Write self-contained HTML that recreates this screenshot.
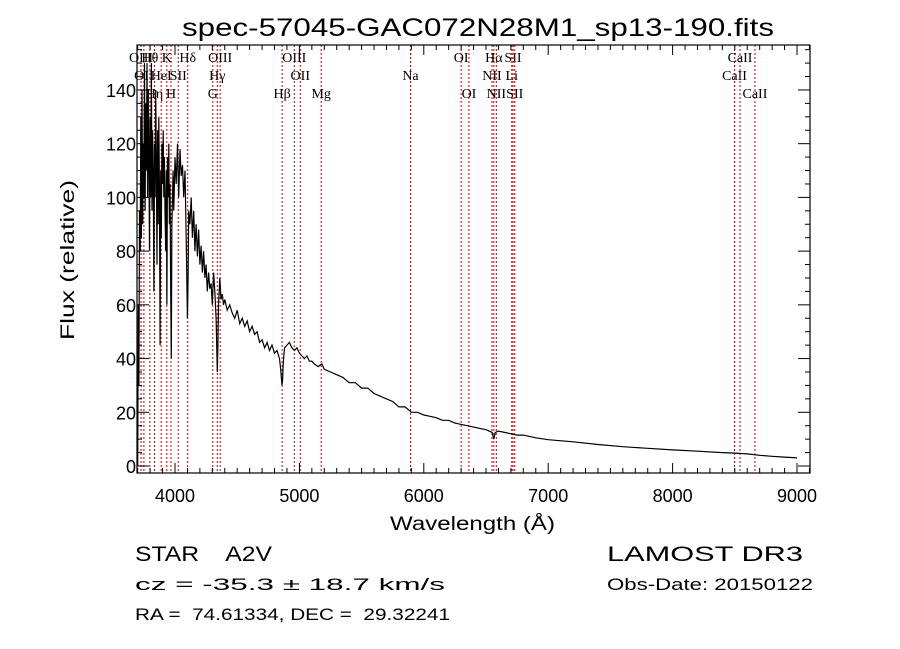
<!DOCTYPE html>
<html><head><meta charset="utf-8"><style>
body{margin:0;background:#fff;width:900px;height:649px;overflow:hidden}
svg{display:block}
text{font-family:"Liberation Sans",sans-serif;fill:#000;white-space:pre}
.lbl{font-family:"Liberation Serif",serif;font-size:14px}
</style></head><body>
<svg id="chart" width="900" height="649" viewBox="0 0 900 649" xml:space="preserve">
<rect width="900" height="649" fill="#fff"/>
<text x="182" y="36" font-size="25" textLength="592" lengthAdjust="spacingAndGlyphs">spec-57045-GAC072N28M1_sp13-190.fits</text>
<text x="390" y="530" font-size="19" textLength="165" lengthAdjust="spacingAndGlyphs">Wavelength (Å)</text>
<text transform="translate(74,340) rotate(-90)" font-size="19" textLength="160" lengthAdjust="spacingAndGlyphs">Flux (relative)</text>
<text x="135" y="561" font-size="21" textLength="137" lengthAdjust="spacingAndGlyphs">STAR    A2V</text>
<text x="135" y="590" font-size="17" textLength="310" lengthAdjust="spacingAndGlyphs">cz = -35.3 ± 18.7 km/s</text>
<text x="135" y="620" font-size="17" textLength="315" lengthAdjust="spacingAndGlyphs">RA =  74.61334, DEC =  29.32241</text>
<text x="607" y="561" font-size="21" textLength="196" lengthAdjust="spacingAndGlyphs">LAMOST DR3</text>
<text x="607" y="590" font-size="17" textLength="206" lengthAdjust="spacingAndGlyphs">Obs-Date: 20150122</text>
<g id="lines"></g>
<g id="spec"></g>
<g id="axes"></g>
</svg>
<script>
const wave=[3700,3705,3710,3715,3720,3725,3730,3735,3740,3745,3750,3755,3760,3765,3770,3775,3780,3785,3790,3795,3800,3805,3810,3815,3820,3825,3830,3835,3840,3845,3850,3855,3860,3865,3870,3875,3880,3885,3890,3895,3900,3905,3910,3915,3920,3925,3930,3935,3940,3945,3950,3955,3960,3965,3970,3975,3980,3985,3990,4000,4010,4020,4030,4040,4050,4060,4070,4080,4090,4100,4105,4110,4120,4130,4140,4150,4160,4170,4180,4190,4200,4210,4220,4230,4240,4250,4260,4270,4280,4290,4300,4310,4320,4330,4335,4340,4345,4350,4360,4370,4380,4390,4400,4420,4440,4460,4480,4500,4520,4540,4560,4580,4600,4620,4640,4660,4680,4700,4720,4740,4760,4780,4800,4820,4840,4850,4860,4865,4870,4880,4900,4920,4940,4960,4980,5000,5020,5040,5060,5080,5100,5120,5150,5180,5200,5250,5300,5350,5400,5450,5500,5550,5600,5650,5700,5750,5800,5850,5900,5950,6000,6050,6100,6150,6200,6250,6300,6350,6400,6450,6500,6550,6563,6575,6600,6650,6700,6750,6800,6900,7000,7200,7400,7600,7800,8000,8200,8400,8500,8600,8700,8800,8900,9000];
const flux=[0,60,30,95,80,130,85,140,90,120,100,150,95,135,110,150,100,140,115,80,130,100,150,95,125,110,65,120,100,140,115,75,125,90,130,105,45,110,85,120,105,125,100,115,95,80,110,60,115,100,120,90,105,70,40,90,100,110,95,115,105,120,100,118,108,112,100,110,85,55,70,95,90,100,85,95,80,90,78,88,75,82,72,80,70,75,65,72,66,68,60,72,65,55,45,35,45,60,70,62,64,60,62,58,60,57,55,58,53,55,52,54,50,52,49,50,46,47,44,46,43,45,42,43,40,36,30,32,38,44,45,46,44,43,44,42,41,40,41,39,39,38,37,38,36,35,34,33,31,31,29,29,27,26,25,24,22,22,20,20,19,18.5,18,17,17,16,15.5,15,14.5,14,13.5,12.5,10,12.5,13,12.5,12,11.5,11.5,10.5,9.8,9,8,7.2,6.6,6,5.5,5,4.8,4.5,4,3.6,3.3,3.0];
const lineWaves=[3727,3750,3798,3835,3889,3934,3968,4026,4102,4304,4340,4363,4861,4959,5007,5175,5893,6300,6363,6548,6563,6583,6707,6717,6731,8498,8542,8662];
const lineLabels=["OIII","OII","Hθ","Hη","HeI","K","H","SII","Hδ","G","Hγ","OIII","Hβ","OIII","OII","Mg","Na","OI","OI","NII","Hα","NII","Li","SII","SII","CaII","CaII","CaII"];
const labelRow=[0,1,0,2,1,0,2,1,0,2,1,0,2,0,1,2,1,0,2,1,0,2,1,0,2,1,0,2];
const xTicks=[4000,5000,6000,7000,8000,9000];
const yTicks=[0,20,40,60,80,100,120,140];
const NS="http://www.w3.org/2000/svg";
const L=137,R=810,T=45,B=473;
const X=w=>175+(w-4000)*0.1244;
const Y=f=>466-f*2.686;
function mk(tag,attrs,parent){const e=document.createElementNS(NS,tag);for(const k in attrs)e.setAttribute(k,attrs[k]);parent.appendChild(e);return e;}
const gl=document.getElementById('lines'),gs=document.getElementById('spec'),ga=document.getElementById('axes');
lineWaves.forEach((w,i)=>{
  const ln=mk('line',{x1:X(w),x2:X(w),y1:T,y2:B,stroke:'#c00000','stroke-width':1,'stroke-dasharray':'2,2'},gl);
  
  
  const t=mk('text',{x:X(w),y:62+labelRow[i]*18,'text-anchor':'middle',class:'lbl'},gl);
  t.textContent=lineLabels[i];
  
  
});
const pts=wave.map((w,i)=>X(w).toFixed(1)+','+Y(flux[i]).toFixed(1)).join(' ');
const pl=mk('polyline',{points:pts,fill:'none',stroke:'#000','stroke-width':1.2},gs);


const frame=mk('rect',{x:L,y:T,width:R-L,height:B-T,fill:'none',stroke:'#000','stroke-width':1.2},ga);


for(let w=3700;w<=9100;w+=100){
  const len=(w%1000===0)?10:5;
  mk('line',{x1:X(w),x2:X(w),y1:B,y2:B-len,stroke:'#000'},ga);
  mk('line',{x1:X(w),x2:X(w),y1:T,y2:T+len,stroke:'#000'},ga);
}
for(let f=0;f<=155;f+=5){
  const len=(f%20===0)?12:5;
  mk('line',{x1:L,x2:L+len,y1:Y(f),y2:Y(f),stroke:'#000'},ga);
  mk('line',{x1:R,x2:R-len,y1:Y(f),y2:Y(f),stroke:'#000'},ga);
}
xTicks.forEach(v=>{const t=mk('text',{x:X(v),y:502,'text-anchor':'middle','font-size':18},ga);t.textContent=v;
  
  });
yTicks.forEach(v=>{const t=mk('text',{x:136,y:Y(v)+7,'text-anchor':'end','font-size':18},ga);t.textContent=v;
  
  });
</script>
</body></html>
